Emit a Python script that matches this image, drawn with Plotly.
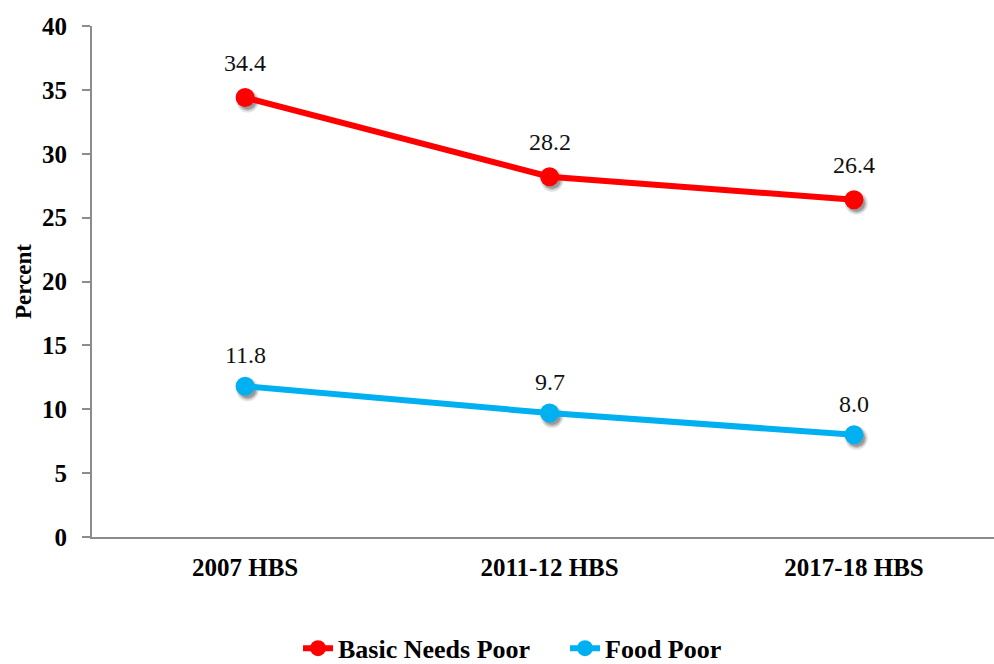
import plotly.graph_objects as go

categories = ["2007 HBS", "2011-12 HBS", "2017-18 HBS"]
basic_needs_poor = [34.4, 28.2, 26.4]
food_poor = [11.8, 9.7, 8.0]
y_ticks = [0, 5, 10, 15, 20, 25, 30, 35, 40]

RED = "#FF0000"
BLUE = "#00B0F0"
FONT = "Liberation Serif"
AXIS = "#8C8C8C"

W, H = 994, 664
ML, MR, MT, MB = 92, 0, 26, 127
X_RANGE = [-0.503, 2.46]
Y_RANGE = [0, 40]

# pixel -> data conversion for the drop-shadow layer
px_x = (W - ML - MR) / (X_RANGE[1] - X_RANGE[0])
px_y = (H - MT - MB) / (Y_RANGE[1] - Y_RANGE[0])
sdx, sdy = 2.5 / px_x, 3.5 / px_y

fig = go.Figure()

# anchor trace so the visible base axes are drawn
fig.add_trace(go.Scatter(
    x=categories, y=[None] * len(categories), mode="markers",
    showlegend=False, hoverinfo="skip",
))

# soft shadow layer (drawn below the series, on shifted hidden axes)
for series in (basic_needs_poor, food_poor):
    for size, alpha in ((23, 0.10), (20, 0.16), (17, 0.2)):
        fig.add_trace(go.Scatter(
            x=categories, y=series, mode="markers", showlegend=False, hoverinfo="skip",
            marker=dict(color=f"rgba(0,0,0,{alpha})", size=size),
            xaxis="x2", yaxis="y2",
        ))

fig.add_trace(go.Scatter(
    x=categories, y=basic_needs_poor, name="Basic Needs Poor",
    mode="lines+markers",
    line=dict(color=RED, width=6),
    marker=dict(color=RED, size=19),
    xaxis="x3", yaxis="y3",
))
fig.add_trace(go.Scatter(
    x=categories, y=food_poor, name="Food Poor",
    mode="lines+markers",
    line=dict(color=BLUE, width=6),
    marker=dict(color=BLUE, size=19),
    xaxis="x3", yaxis="y3",
))

for series, shift in ((basic_needs_poor, 35), (food_poor, 31)):
    for c, v in zip(categories, series):
        fig.add_annotation(
            x=c, y=v, xref="x3", yref="y3", text=f"{v:.1f}", showarrow=False,
            yanchor="middle", yshift=shift,
            font=dict(family=FONT, size=24, color="#111111"),
        )

fig.update_layout(
    width=W, height=H,
    margin=dict(l=ML, r=MR, t=MT, b=MB, autoexpand=False),
    paper_bgcolor="white", plot_bgcolor="white",
    font=dict(family=FONT, color="#000000"),
    showlegend=True,
    legend=dict(
        orientation="h", x=0.2284, xanchor="left", y=-0.2178, yanchor="middle",
        font=dict(family=FONT, size=26, color="#000000", weight="bold"),
        itemwidth=30, tracegroupgap=0, bgcolor="rgba(0,0,0,0)",
        entrywidth=222,
    ),
    xaxis=dict(
        type="category", categoryarray=categories, range=X_RANGE,
        showline=True, linecolor=AXIS, linewidth=2,
        showgrid=False, zeroline=False, ticks="",
        ticklabelstandoff=7, automargin=False,
        tickfont=dict(family=FONT, size=25, color="#000000", weight="bold"),
    ),
    yaxis=dict(
        range=Y_RANGE, tickvals=y_ticks,
        showline=True, linecolor=AXIS, linewidth=2,
        showgrid=False, zeroline=False,
        ticks="outside", ticklen=8, tickcolor=AXIS, tickwidth=2,
        ticklabelstandoff=10, automargin=False,
        tickfont=dict(family=FONT, size=25, color="#000000", weight="bold"),
        title=dict(text="<b>Percent</b>", font=dict(family=FONT, size=23, color="#000000"), standoff=4),
    ),
    xaxis2=dict(type="category", categoryarray=categories, overlaying="x", visible=False,
                range=[X_RANGE[0] - sdx, X_RANGE[1] - sdx]),
    yaxis2=dict(overlaying="y", visible=False,
                range=[Y_RANGE[0] + sdy, Y_RANGE[1] + sdy]),
    xaxis3=dict(type="category", categoryarray=categories, overlaying="x", visible=False,
                range=X_RANGE),
    yaxis3=dict(overlaying="y", visible=False, range=Y_RANGE),
)

fig.write_html(
    "out.html",
    config={"displayModeBar": False},
    post_script="document.body.style.margin='0';document.body.style.overflow='hidden';",
)
